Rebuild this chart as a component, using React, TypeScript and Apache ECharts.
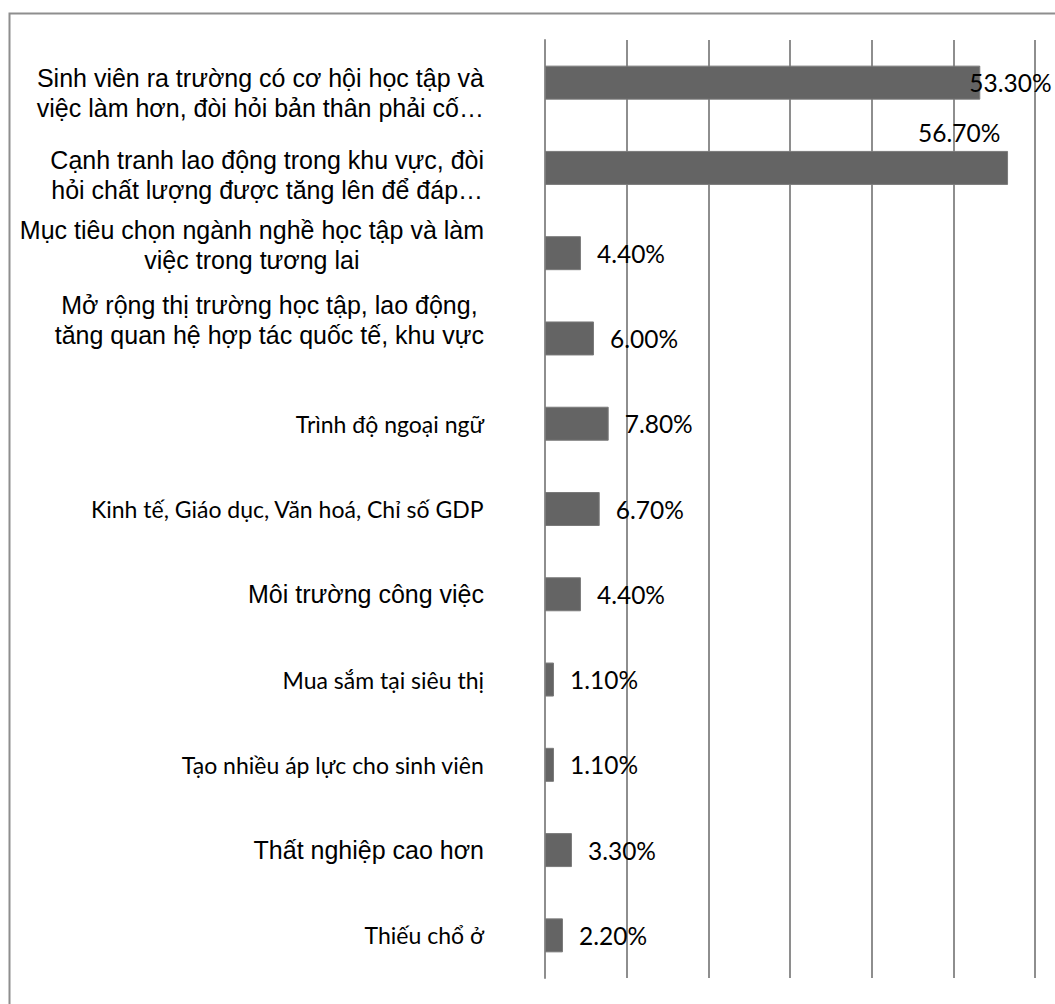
import React, { useEffect, useRef } from "react";
import * as echarts from "echarts";

const categories: string[] = [
  "Sinh viên ra trường có cơ hội học tập và\nviệc làm hơn, đòi hỏi bản thân phải cố…",
  "Cạnh tranh lao động trong khu vực, đòi\nhỏi chất lượng được tăng lên để đáp…",
  "Mục tiêu chọn ngành nghề học tập và làm\nviệc trong tương lai",
  "Mở rộng thị trường học tập, lao động,\ntăng quan hệ hợp tác quốc tế, khu vực",
  "Trình độ ngoại ngữ",
  "Kinh tế, Giáo dục, Văn hoá, Chỉ số GDP",
  "Môi trường công việc",
  "Mua sắm tại siêu thị",
  "Tạo nhiều áp lực cho sinh viên",
  "Thất nghiệp cao hơn",
  "Thiếu chổ ở",
];

const values: number[] = [53.3, 56.7, 4.4, 6.0, 7.8, 6.7, 4.4, 1.1, 1.1, 3.3, 2.2];

// which font style each category label uses ("a" = Arial-like, "b" = Calibri-like)
const labelStyle: string[] = ["a", "a", "a", "a", "b", "b", "a", "b", "b", "a", "b"];

// vertical nudge of multi-line labels (px, + = down)
const labelShift: number[] = [10, 7, -8, -18, 0, 0, 0, 0, 0, 0, 0];

const GRID_COLOR = "#8e8e8e";
const BAR_COLOR = "#646464";

export default function App() {
  const ref = useRef<HTMLDivElement>(null);

  useEffect(() => {
    if (!ref.current) return;
    const chart = echarts.init(ref.current, null, { renderer: "svg" });

    const rich: any = {
      a: { fontFamily: "Liberation Sans, Arial, sans-serif", fontSize: 25, lineHeight: 30, align: "center", color: "#000" },
      b: { fontFamily: "Lato, 'Noto Sans', sans-serif", fontSize: 23, lineHeight: 30, align: "center", color: "#000" },
    };
    labelShift.forEach((s, i) => {
      if (s !== 0) rich["s" + i] = { fontSize: 1, lineHeight: Math.abs(s) * 2, align: "center" };
    });

    const seriesData = values.map((v, i) => {
      if (i === 0) {
        return { value: v, label: { offset: [-27, 0] } };
      }
      if (i === 1) {
        return { value: v, label: { offset: [-106, -35] } };
      }
      return v;
    });

    chart.setOption({
      animation: false,
      backgroundColor: "#fff",
      grid: { left: 545, right: 20, top: 40, bottom: 26, containLabel: false },
      xAxis: {
        type: "value",
        min: 0,
        max: 60,
        interval: 10,
        axisLabel: { show: false },
        axisLine: { show: false },
        axisTick: { show: false },
        splitLine: { show: true, lineStyle: { color: GRID_COLOR, width: 2 } },
      },
      yAxis: {
        type: "category",
        inverse: true,
        data: categories,
        axisTick: { show: false },
        axisLine: { show: true, lineStyle: { color: GRID_COLOR, width: 2 } },
        axisLabel: {
          margin: 61,
          align: "right",
          interval: 0,
          formatter: (value: string, index: number) => {
            const st = labelStyle[index];
            let s = value
              .split("\n")
              .map((l) => `{${st}|${l}}`)
              .join("\n");
            const sh = labelShift[index];
            if (sh > 0) s = `{s${index}| }\n` + s;
            if (sh < 0) s = s + `\n{s${index}| }`;
            return s;
          },
          rich,
        },
      },
      series: [
        {
          type: "bar",
          data: seriesData,
          barWidth: 34,
          itemStyle: { color: BAR_COLOR, borderColor: "#7a7a7a", borderWidth: 1 },
          label: {
            show: true,
            position: "right",
            distance: 16,
            color: "#000",
            fontFamily: "Lato, 'Noto Sans', sans-serif",
            fontSize: 24.5,
            formatter: (p: any) => Number(p.value).toFixed(2) + "%",
          },
        },
      ],
      graphic: [
        {
          type: "rect",
          left: 7,
          top: 11,
          shape: { x: 0, y: 0, width: 1100, height: 1100 },
          style: { fill: "none", stroke: "#8e8e8e", lineWidth: 2 },
          silent: true,
          z: -1,
        },
      ],
    });

    return () => chart.dispose();
  }, []);

  return (
    <div
      ref={ref}
      style={{ position: "fixed", left: 0, top: 0, width: 1055, height: 1004 }}
    />
  );
}
